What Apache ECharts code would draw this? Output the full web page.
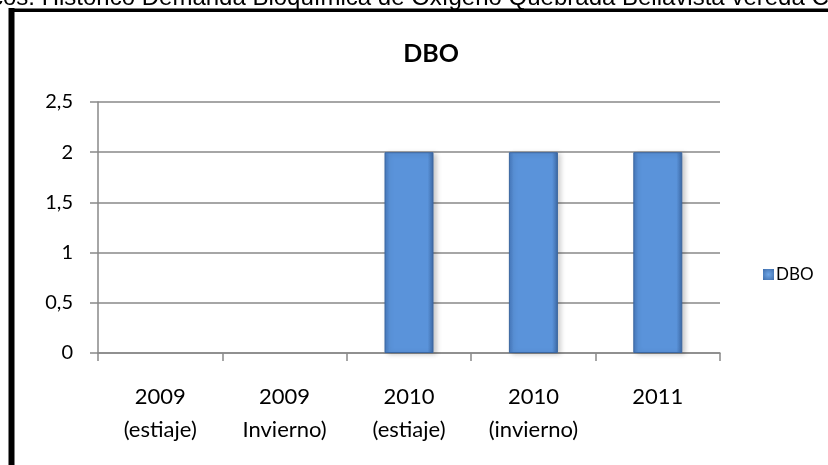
<!DOCTYPE html>
<html>
<head>
<meta charset="utf-8">
<script src="https://cdn.jsdelivr.net/npm/echarts@6/dist/echarts.min.js"></script>
<style>
html,body{margin:0;padding:0;background:#fff;}
#c{width:828px;height:465px;}
</style>
</head>
<body>
<div id="c"></div>
<script>
const categories = ['2009\n(estiaje)', '2009\nInvierno)', '2010\n(estiaje)', '2010\n(invierno)', '2011'];
const dboValues = [null, null, 2, 2, 2];
const yTicks = [0, 0.5, 1, 1.5, 2, 2.5];
const seriesName = 'DBO';
const chartTitle = 'DBO';
const captionText = 'cos. Histórico Demanda Bioquímica de Oxígeno Quebrada Bellavista vereda C';

const chart = echarts.init(document.getElementById('c'), null, {renderer: 'canvas'});
const font = 'Lato, "Open Sans", sans-serif';

const barGradient = new echarts.graphic.LinearGradient(0, 0, 1, 0, [
  {offset: 0, color: '#4677BA'},
  {offset: 0.1, color: '#5A93DA'},
  {offset: 0.88, color: '#5A93DA'},
  {offset: 1, color: '#3C68A3'}
]);
const legendGradient = new echarts.graphic.RadialGradient(0.5, 0.5, 0.7, [
  {offset: 0, color: '#6FA6E6'},
  {offset: 1, color: '#3E6DAB'}
]);

chart.setOption({
  animation: false,
  backgroundColor: '#fff',
  title: {
    text: chartTitle,
    left: 426,
    top: 36,
    textAlign: 'center',
    textStyle: {fontFamily: font, fontSize: 25, fontWeight: 'bold', color: '#000'}
  },
  legend: {
    data: [{name: seriesName, itemStyle: {color: legendGradient, borderWidth: 0, shadowBlur: 0}}],
    left: 758,
    top: 261,
    itemWidth: 11,
    itemHeight: 11,
    itemGap: 5,
    icon: 'rect',
    textStyle: {fontFamily: font, fontSize: 17, color: '#000', padding: [0, 0, 0, -3]}
  },
  grid: {left: 98, right: 108, top: 102, bottom: 112, containLabel: false},
  xAxis: {
    type: 'category',
    data: categories,
    boundaryGap: true,
    axisLine: {show: true, lineStyle: {color: '#898989', width: 1.5}},
    axisTick: {show: true, alignWithLabel: false, length: 8, lineStyle: {color: '#898989', width: 1.5}},
    axisLabel: {fontFamily: font, fontSize: 22, color: '#000', lineHeight: 33, margin: 27, interval: 0}
  },
  yAxis: {
    type: 'value',
    min: yTicks[0],
    max: yTicks[yTicks.length - 1],
    interval: 0.5,
    axisLine: {show: true, lineStyle: {color: '#898989', width: 1.5}},
    axisTick: {show: true, length: 8, lineStyle: {color: '#898989', width: 1.5}},
    splitLine: {show: true, lineStyle: {color: '#898989', width: 1.5}},
    axisLabel: {
      fontFamily: font, fontSize: 20, color: '#000', margin: 25,
      formatter: v => String(v).replace('.', ',')
    }
  },
  series: [{
    name: seriesName,
    type: 'bar',
    data: dboValues,
    barWidth: 49,
    itemStyle: {
      color: barGradient,
      borderColor: '#3A66A0',
      borderWidth: 1,
      shadowColor: 'rgba(0,0,0,0.22)',
      shadowBlur: 5,
      shadowOffsetX: 3,
      shadowOffsetY: 1
    }
  }],
  graphic: [
    {
      type: 'line',
      shape: {x1: 11.5, y1: 8, x2: 11.5, y2: 470},
      style: {stroke: '#000', lineWidth: 6},
      z: 100
    },
    {
      type: 'line',
      shape: {x1: 9, y1: 10.3, x2: 830, y2: 10.3},
      style: {stroke: '#000', lineWidth: 3.5},
      z: 100
    },
    {
      type: 'text',
      left: -9,
      top: -14,
      style: {text: captionText, font: '24px "Liberation Sans", Arial, sans-serif', fill: '#000'},
      z: 100
    }
  ]
});
</script>
</body>
</html>
